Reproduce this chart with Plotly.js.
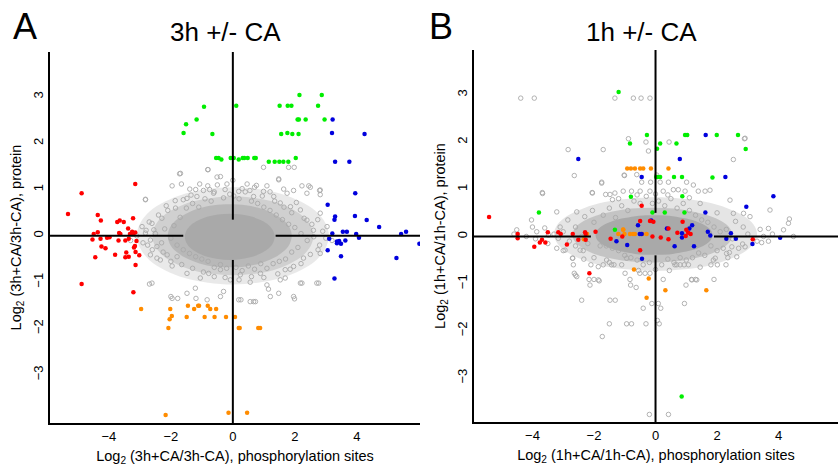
<!DOCTYPE html>
<html>
<head>
<meta charset="utf-8">
<script src="https://cdn.plot.ly/plotly-3.0.1.min.js"></script>
<style>html,body{margin:0;padding:0;background:#fff}#chart{width:838px;height:468px}</style>
</head>
<body>
<div id="chart"></div>
<script>
// ---------- Panel A (3h +/- CA) ----------
const aGreen = [[2.15,3.04],[2.87,3.04],[-0.93,2.79],[0.11,2.81],[1.51,2.81],[1.77,2.81],[1.89,2.81],[2.75,2.81],[-1.17,2.51],[-1.51,2.41],[2.09,2.51],[2.13,2.51],[2.35,2.51],[2.96,2.51],[-1.59,2.22],[-0.66,2.2],[1.56,2.2],[1.76,2.22],[1.92,2.2],[2.12,2.2],[-0.54,1.68],[-0.46,1.68],[-0.37,1.65],[-0.07,1.68],[0.03,1.68],[0.19,1.65],[0.32,1.68],[0.37,1.68],[0.48,1.68],[0.69,1.68],[0.74,1.68],[1.16,1.6],[1.35,1.6],[1.5,1.6],[1.63,1.6],[1.79,1.6],[2.03,1.68]];
const aBlue = [[3.22,2.51],[3.2,2.22],[4.25,2.2],[3.3,1.6],[3.76,1.6],[3.95,0.92],[3.06,0.67],[3.3,0.42],[3.28,0.35],[3.94,0.43],[4.32,0.34],[4.72,0.19],[5.43,0.04],[5.59,0.09],[6.02,-0.17],[3.21,0.05],[3.55,0.09],[3.68,0.09],[3.98,0.04],[4.07,-0.04],[3.11,-0.06],[3.36,-0.12],[3.43,-0.11],[3.49,-0.17],[3.63,-0.1],[3.36,-0.16],[3.06,-0.31],[3.49,-0.44],[5.28,-0.48],[3.28,-0.92]];
const aRed = [[-3.15,1.12],[-4.88,0.92],[-5.32,0.47],[-4.36,0.45],[-4.26,0.33],[-3.22,0.38],[-3.73,0.3],[-3.65,0.33],[-3.52,0.3],[-3.38,0.16],[-4.49,0.04],[-4.36,0.08],[-3.67,0.06],[-3.63,0.04],[-3.25,0.09],[-3.15,0.07],[-3.22,0.04],[-3.32,0.04],[-4.06,-0.04],[-3.98,-0.03],[-4.53,-0.08],[-4.27,-0.06],[-3.69,-0.1],[-3.47,-0.1],[-3.36,-0.06],[-3.11,-0.11],[-3.16,-0.22],[-3.19,-0.25],[-4.24,-0.23],[-4.11,-0.27],[-3.14,-0.35],[-3.44,-0.36],[-3.36,-0.45],[-3.47,-0.46],[-3.8,-0.41],[-4.44,-0.46],[-3.02,-0.42],[-3.14,-0.63],[-4.88,-1.04],[-3.21,-1.22]];
const aOrange = [[-2.96,-1.58],[-2.02,-1.58],[-1.45,-1.51],[-1.25,-1.58],[-1.12,-1.51],[-1.09,-1.51],[-0.81,-1.51],[-0.73,-1.58],[-0.54,-1.58],[-1.97,-1.73],[-2.04,-1.8],[-1.49,-1.75],[-0.91,-1.75],[-0.59,-1.75],[-0.22,-1.75],[0.07,-1.75],[-2.08,-1.99],[0.19,-1.99],[0.22,-1.99],[0.82,-1.99],[0.88,-1.99],[-2.17,-3.87],[-0.14,-3.82],[0.46,-3.82]];
const aGray = [[-1.72,1.34],[-1.96,1.08],[-1.66,1.12],[-1.39,1.01],[-1.07,1.12],[-0.81,1.08],[-0.51,1.27],[-0.4,1.28],[-0.19,1.12],[-0.81,1.43],[0.19,0.96],[0.46,1.12],[0.76,1.09],[1.1,1.08],[1.48,1.21],[1.64,1.01],[2.23,1.08],[2.45,1.08],[2.8,0.98],[2.82,0.89],[2.39,0.92],[1.96,0.98],[1.75,0.92],[1.32,0.85],[0.99,0.96],[0.67,0.85],[0.03,0.86],[-0.62,0.92],[-1.16,0.85],[-1.48,0.81],[-1.86,0.76],[-2.82,0.78],[-2.29,0.38],[-2.61,0.27],[-2.93,0.2],[-2.82,0.06],[-2.55,0.13],[-2.66,-0.09],[-2.45,-0.23],[-2.66,-0.41],[-2.12,-0.41],[-2.34,-0.52],[-1.96,-0.65],[-2.61,-1.02],[-1.48,-0.81],[-1.05,-0.91],[-0.78,-0.81],[-0.4,-0.73],[-0.08,-0.95],[0.24,-0.84],[0.56,-1.0],[0.89,-0.81],[1.1,-1.06],[1.53,-0.95],[1.69,-0.73],[1.96,-0.66],[2.28,-0.48],[2.18,-1.02],[2.71,-1.02],[2.82,-0.38],[2.61,-0.02],[2.39,0.34],[2.82,0.49],[3.04,0.2],[2.18,0.56],[1.86,0.63],[1.53,0.71],[-1.48,-1.24],[-2.0,-1.31],[-0.83,-1.38],[-0.4,-1.31],[0.56,-1.42],[0.67,-1.42],[1.21,-1.31],[1.48,-1.24],[1.96,-1.31],[0.19,-1.38],[-0.3,-1.2],[-1.21,-1.13],[-1.96,-1.35],[-1.78,-1.35],[-1.19,-1.35],[0.26,-1.38],[0.73,-1.42],[1.99,-1.36],[-2.69,-1.04],[-2.45,-0.48],[1.69,-0.91],[2.23,-1.02],[2.77,-1.02],[1.15,-1.15],[-1.69,1.35],[-2.82,0.79],[0.99,1.48],[1.8,1.48],[1.98,1.48],[1.48,1.23],[2.5,1.05],[2.82,0.99],[2.74,0.35],[-0.8,1.43],
[-2.2,0.15],[-2.0,-0.05],[-1.9,0.22],[-1.8,-0.2],[-2.3,-0.15],[-2.5,0.05],[-1.7,0.4],[-1.5,0.6],[-1.3,0.7],[-1.1,0.62],[-0.9,0.8],[-0.7,0.75],[-0.6,0.95],[-0.3,0.82],[-0.1,0.9],[0.2,0.8],[0.4,0.95],[0.6,0.75],[0.8,0.7],[1.0,0.62],[1.2,0.55],[1.4,0.45],[1.6,0.35],[1.8,0.25],[2.0,0.18],[2.2,0.05],[2.4,-0.1],[2.1,-0.25],[1.9,-0.35],[1.7,-0.5],[1.5,-0.55],[1.3,-0.6],[1.1,-0.7],[0.9,-0.6],[0.7,-0.72],[0.5,-0.65],[0.3,-0.75],[0.1,-0.68],[-0.2,-0.7],[-0.4,-0.62],[-0.6,-0.68],[-0.8,-0.55],[-1.0,-0.5],[-1.2,-0.45],[-1.4,-0.38],[-1.6,-0.3],[-1.8,-0.45],[-2.6,-0.3],[-2.8,0.12],[2.6,0.12],[2.8,-0.2],[3.0,-0.05],[-1.2,1.0],[1.2,0.95],[0.0,1.2],[-0.5,1.1],[0.7,1.05],
[-2.9,-0.15],[-2.7,0.3],[-2.4,0.45],[-2.1,0.55],[-1.85,0.6],[-1.6,0.78],[-1.35,0.88],[-0.95,0.98],[-0.75,1.0],[-0.25,1.0],[0.3,1.02],[0.55,0.98],[0.95,0.86],[1.35,0.75],[1.65,0.62],[1.9,0.5],[2.3,0.38],[2.55,0.25],[2.9,0.1],[2.75,-0.3],[2.5,-0.4],[2.2,-0.6],[1.85,-0.72],[1.45,-0.82],[1.0,-0.9],[0.6,-0.88],[0.2,-0.95],[-0.25,-0.9],[-0.6,-0.88],[-0.95,-0.78],[-1.3,-0.7],[-1.65,-0.62],[-2.0,-0.55],[-2.25,-0.35],[-2.75,-0.2],[-3.1,0.0],[-3.3,-0.1],[3.2,-0.1],[-2.15,0.65],[2.05,0.72]];
// hand-traced outlines of the cloud, from its solid core out to its loose edge
const aCore = [[1.35,-0.02],[1.3,0.11],[1.16,0.23],[0.93,0.33],[0.63,0.41],[0.28,0.46],[-0.1,0.48],[-0.48,0.46],[-0.83,0.41],[-1.13,0.33],[-1.36,0.23],[-1.5,0.11],[-1.55,-0.02],[-1.5,-0.15],[-1.36,-0.27],[-1.13,-0.37],[-0.83,-0.45],[-0.48,-0.5],[-0.1,-0.52],[0.28,-0.5],[0.63,-0.45],[0.93,-0.37],[1.16,-0.27],[1.3,-0.15]];
const aMid = [[1.9,0],[1.83,0.18],[1.63,0.34],[1.31,0.48],[0.9,0.59],[0.42,0.66],[-0.1,0.68],[-0.62,0.66],[-1.1,0.59],[-1.51,0.48],[-1.83,0.34],[-2.03,0.18],[-2.1,0],[-2.03,-0.18],[-1.83,-0.34],[-1.51,-0.48],[-1.1,-0.59],[-0.62,-0.66],[-0.1,-0.68],[0.42,-0.66],[0.9,-0.59],[1.31,-0.48],[1.63,-0.34],[1.83,-0.18]];
const aHalo = [[2.6,0],[2.51,0.22],[2.25,0.43],[1.84,0.6],[1.3,0.74],[0.67,0.82],[0,0.85],[-0.67,0.82],[-1.3,0.74],[-1.84,0.6],[-2.25,0.43],[-2.51,0.22],[-2.6,0],[-2.51,-0.22],[-2.25,-0.43],[-1.84,-0.6],[-1.3,-0.74],[-0.67,-0.82],[0,-0.85],[0.67,-0.82],[1.3,-0.74],[1.84,-0.6],[2.25,-0.43],[2.51,-0.22]];
const aEdge = [[3.1,0],[2.99,0.27],[2.68,0.53],[2.19,0.74],[1.55,0.91],[0.8,1.01],[0,1.05],[-0.8,1.01],[-1.55,0.91],[-2.19,0.74],[-2.68,0.53],[-2.99,0.27],[-3.1,0],[-2.99,-0.27],[-2.68,-0.53],[-2.19,-0.74],[-1.55,-0.91],[-0.8,-1.01],[0,-1.05],[0.8,-1.01],[1.55,-0.91],[2.19,-0.74],[2.68,-0.53],[2.99,-0.27]];
const aRefGaps = {x: [-1.6, 1.38], y: [-0.52, 0.35]};

// ---------- Panel B (1h +/- CA) ----------
const bGreen = [[-1.2,3.06],[-0.28,2.15],[-0.83,1.97],[0.15,1.97],[0.05,1.86],[0.68,1.97],[0.96,2.15],[1.03,2.15],[1.99,2.15],[2.68,2.15],[2.93,1.85],[0.02,1.26],[0.07,1.26],[0.15,1.26],[0.6,1.26],[0.86,1.26],[1.85,1.25],[-0.8,0.84],[0.87,0.85],[-3.79,0.51],[-0.1,0.51],[0.3,0.51],[0.94,0.51],[-1.32,0.14],[0.85,-3.39]];
const bBlue = [[-2.51,1.64],[0.79,1.64],[-0.45,1.26],[1.63,2.15],[2.27,1.26],[3.83,0.85],[2.95,0.63],[1.62,0.51],[-0.14,0.34],[-0.57,0.24],[1.19,0.24],[1.1,0.17],[0.37,0.17],[-0.51,0.05],[-0.45,0.05],[0.86,0.07],[1.7,0.1],[1.78,0.02],[2.45,0.07],[2.3,-0.05],[2.61,-0.05],[3.15,-0.16],[0.86,-0.02],[-1.27,-0.1],[-0.92,-0.18],[0.62,-0.21],[1.25,-0.21],[-0.44,-0.47],[4.05,-0.03]];
const bRed = [[-5.41,0.41],[-4.48,0.05],[-4.48,-0.04],[-3.5,0.09],[-3.16,0.09],[-3.08,0.05],[-2.69,0.05],[-2.29,0.09],[-2.27,0.05],[-1.95,0.1],[-3.69,-0.07],[-3.76,-0.13],[-3.58,-0.13],[-3.94,-0.22],[-2.51,-0.07],[-2.27,-0.07],[-2.88,-0.17],[-1.46,-0.05],[-1.08,0.0],[-0.45,0.65],[-0.18,0.33],[-0.5,0.33],[-0.07,0.31],[0.42,0.17],[0.71,0.08],[1.0,0.14],[1.06,0.08],[1.14,0.05],[-0.1,0.0],[0.42,-0.06],[0.88,0.31],[-0.5,-0.29],[3.16,-0.06],[-2.15,-0.78],[0.17,-0.02],[0.98,0.01]];
const bOrange = [[-0.92,1.44],[-0.8,1.44],[-0.67,1.44],[-0.5,1.44],[-0.4,1.44],[-0.15,1.44],[0.42,1.44],[-1.05,0.14],[-1.21,0.05],[-1.05,0.15],[-1.01,0.05],[-0.83,0.05],[-0.73,0.05],[-0.67,0.05],[-0.29,0.05],[-0.42,0.05],[-2.22,0.05],[-2.33,-0.06],[-0.7,-0.7],[-0.22,-0.89],[-0.29,-1.3],[0.32,-1.14],[1.65,-1.14]];
const bGray = [[-4.38,2.93],[-3.94,2.93],[-1.32,2.93],[-0.72,2.93],[-0.47,2.93],[-0.18,2.93],[-0.88,2.07],[-0.31,2.0],[0.44,2.0],[2.89,2.07],[-0.23,1.81],[-2.84,1.84],[-1.7,1.84],[2.53,1.63],[-2.64,1.29],[-1.01,1.29],[-0.61,1.31],[-0.45,1.15],[-0.16,1.15],[0.15,1.15],[0.42,1.15],[1.01,1.15],[-1.75,1.15],[0.04,1.3],[-2.05,0.92],[-1.62,0.89],[-1.48,0.89],[-1.32,0.92],[-1.05,0.96],[-0.78,0.96],[-0.5,0.96],[-0.18,0.96],[0.25,0.96],[0.58,0.99],[0.96,0.96],[1.39,0.96],[1.61,0.96],[0.74,0.99],[-3.68,0.93],[-2.06,0.93],[-3.21,0.52],[-2.56,0.52],[-4.03,0.35],[-4.51,0.14],[4.35,0.37],[3.67,0.17],[2.53,0.49],[2.86,0.49],[2.91,2.08],[-1.02,1.3],[-3.67,0.91],[-1.75,1.13],[-3.21,-0.25],[-2.94,-0.29],[-2.69,-0.46],[-2.45,-0.29],[-1.86,-0.64],[-1.59,-0.5],[-0.94,-0.46],[0.69,-0.6],[1.18,-0.92],[1.34,-0.92],[1.88,-0.5],[2.64,-0.43],[2.91,-0.22],[3.51,0.0],[4.16,0.14],[4.32,0.28],[3.07,0.42],[3.72,0.56],[2.42,0.77],[1.77,0.98],[1.23,1.09],[-2.56,-0.85],[-2.13,-1.03],[-1.86,-0.92],[-3.16,-0.04],[-3.48,0.03],[-3.86,0.1],
[-2.7,-0.46],[-2.67,-0.6],[-2.33,-0.48],[-2.64,-0.78],[-2.6,-0.82],[-2.1,-0.6],[-1.7,-0.6],[-1.43,-0.6],[-1.35,-0.6],[-2.16,-0.91],[-2.0,-0.91],[-1.83,-0.94],[-2.4,-1.35],[-1.48,-1.35],[-1.31,-1.35],[-0.99,-0.78],[-0.83,-0.91],[-0.81,-1.03],[-0.63,-1.08],[-0.51,-0.78],[-0.34,-0.78],[-0.18,-0.78],[-0.4,-1.52],[-0.12,-1.42],[0.09,-1.42],[0.17,-1.52],[0.25,-0.91],[0.63,-0.6],[0.8,-0.6],[0.93,-0.6],[1.07,-0.6],[0.99,-1.03],[1.17,-0.91],[1.3,-0.91],[1.9,-0.91],[2.01,-0.6],[2.29,-0.6],[1.94,-0.46],[0.94,-1.42],[-1.5,-1.85],[-0.94,-1.85],[-0.78,-1.85],[-0.31,-1.85],[0.12,-1.85],[-1.73,-2.12],[2.4,-0.34],[2.48,-0.22],[2.83,-0.16],[3.45,-0.13],[3.67,-0.1],[-0.2,-3.77],[0.42,-3.77],[0.06,-1.78],[4.48,0.0],[2.31,-0.36],
[-3.0,0.1],[-2.8,-0.1],[-2.6,0.2],[-2.4,0.0],[-2.2,-0.15],[-2.0,0.3],[-1.8,-0.2],[-1.7,0.45],[-1.5,0.6],[-1.3,0.4],[-1.1,0.65],[-0.9,0.55],[-0.7,0.75],[-0.5,0.7],[-0.3,0.85],[-0.1,0.7],[0.1,0.75],[0.3,0.65],[0.5,0.8],[0.7,0.6],[0.9,0.7],[1.1,0.55],[1.3,0.45],[1.5,0.35],[1.7,0.3],[1.9,0.2],[2.1,0.1],[2.3,0.15],[2.5,-0.05],[2.2,-0.25],[2.0,-0.3],[1.8,-0.2],[1.6,-0.4],[1.4,-0.35],[1.2,-0.45],[1.0,-0.5],[0.8,-0.45],[0.6,-0.55],[0.4,-0.48],[0.2,-0.6],[-0.2,-0.55],[-0.4,-0.6],[-0.6,-0.5],[-0.8,-0.45],[-1.0,-0.4],[-1.2,-0.3],[-1.4,-0.25],[-1.6,-0.2],[-2.6,-0.2],[-3.3,0.05],[3.0,0.05],[3.3,-0.1],[-4.2,0.0],[-4.6,0.05],[-3.6,0.18],[-3.9,-0.05],
[-3.5,-0.15],[-3.1,0.2],[-2.85,0.35],[-2.3,0.42],[-2.05,0.55],[-1.4,0.78],[-1.2,0.8],[-0.6,0.88],[0.0,0.9],[0.4,0.88],[1.1,0.82],[1.45,0.7],[2.0,0.5],[2.6,0.32],[2.85,0.2],[3.4,0.15],[3.8,0.05],[2.7,-0.25],[2.35,-0.45],[1.8,-0.6],[1.45,-0.65],[0.45,-0.72],[0.0,-0.7],[-0.55,-0.72],[-1.1,-0.6],[-1.5,-0.55],[-2.0,-0.45],[-2.35,-0.3],[-3.0,-0.3],[-4.0,0.2]];
const bCore = [[1.85,0.03],[1.79,0.14],[1.6,0.24],[1.29,0.33],[0.9,0.39],[0.44,0.44],[-0.05,0.45],[-0.54,0.44],[-1.0,0.39],[-1.39,0.33],[-1.7,0.24],[-1.89,0.14],[-1.95,0.03],[-1.89,-0.08],[-1.7,-0.18],[-1.39,-0.27],[-1.0,-0.33],[-0.54,-0.38],[-0.05,-0.39],[0.44,-0.38],[0.9,-0.33],[1.29,-0.27],[1.6,-0.18],[1.79,-0.08]];
const bMid = [[2.5,0.03],[2.41,0.18],[2.15,0.32],[1.74,0.44],[1.2,0.53],[0.57,0.59],[-0.1,0.61],[-0.77,0.59],[-1.4,0.53],[-1.94,0.44],[-2.35,0.32],[-2.61,0.18],[-2.7,0.03],[-2.61,-0.12],[-2.35,-0.26],[-1.94,-0.38],[-1.4,-0.47],[-0.77,-0.53],[-0.1,-0.55],[0.57,-0.53],[1.2,-0.47],[1.74,-0.38],[2.15,-0.26],[2.41,-0.12]];
const bHalo = [[3.3,0.05],[3.19,0.25],[2.86,0.44],[2.33,0.6],[1.65,0.73],[0.85,0.8],[0,0.83],[-0.85,0.8],[-1.65,0.73],[-2.33,0.6],[-2.86,0.44],[-3.19,0.25],[-3.3,0.05],[-3.19,-0.15],[-2.86,-0.34],[-2.33,-0.5],[-1.65,-0.63],[-0.85,-0.7],[0,-0.73],[0.85,-0.7],[1.65,-0.63],[2.33,-0.5],[2.86,-0.34],[3.19,-0.15]];
const bRefGaps = {x: [-2.1, 1.9], y: [-0.4, 0.5]};

// tick labels
const xTicks = [-4, -2, 0, 2, 4];
const yTicks = [-3, -2, -1, 0, 1, 2, 3];

const COL = {gray:'#a9a9a9', red:'#ff0000', green:'#00ee00', blue:'#0000dd', orange:'#ff8c00'};
const xs = a => a.map(p => p[0]);
const ys = a => a.map(p => p[1]);

function poly(pts, xa, ya, fill){
  const c = pts.concat([pts[0]]);
  return {type:'scatter', mode:'lines', x:xs(c), y:ys(c), xaxis:xa, yaxis:ya, fill:'toself',
    fillcolor:fill, line:{width:0, color:fill, shape:'spline'}, hoverinfo:'skip'};
}
function grayPts(pts, xa, ya){
  return {type:'scatter', mode:'markers', x:xs(pts), y:ys(pts), xaxis:xa, yaxis:ya,
    marker:{symbol:'circle-open', size:4.5, color:COL.gray, line:{width:0.9, color:COL.gray}}, hoverinfo:'x+y'};
}
function colPts(pts, xa, ya, c){
  return {type:'scatter', mode:'markers', x:xs(pts), y:ys(pts), xaxis:xa, yaxis:ya,
    marker:{symbol:'circle', size:4.5, color:c}, hoverinfo:'x+y'};
}

const data = [
  poly(aEdge,'x','y','rgba(169,169,169,0.25)'), poly(aHalo,'x','y','rgba(169,169,169,0.4)'),
  poly(aMid,'x','y','rgba(169,169,169,0.6)'), poly(aCore,'x','y','#a9a9a9'), grayPts(aGray,'x','y'),
  colPts(aGreen,'x','y',COL.green), colPts(aOrange,'x','y',COL.orange), colPts(aBlue,'x','y',COL.blue), colPts(aRed,'x','y',COL.red),
  poly(bHalo,'x2','y2','rgba(169,169,169,0.3)'), poly(bMid,'x2','y2','rgba(169,169,169,0.55)'),
  poly(bCore,'x2','y2','#a9a9a9'), grayPts(bGray,'x2','y2'),
  colPts(bGreen,'x2','y2',COL.green), colPts(bOrange,'x2','y2',COL.orange), colPts(bBlue,'x2','y2',COL.blue), colPts(bRed,'x2','y2',COL.red)
];

const xRangeA = [-5.9, 6.04], yRangeA = [-4.04, 3.97];
const xRangeB = [-5.9, 5.93], yRangeB = [-3.93, 3.95];

function refLines(xa, ya, xr, yr, g){
  const L = {type:'line', xref:xa, yref:ya, layer:'above', line:{color:'#000', width:2}};
  return [
    Object.assign({}, L, {x0:0, x1:0, y0:g.y[1], y1:yr[1]}),
    Object.assign({}, L, {x0:0, x1:0, y0:yr[0], y1:g.y[0]}),
    Object.assign({}, L, {x0:xr[0], x1:g.x[0], y0:0, y1:0}),
    Object.assign({}, L, {x0:g.x[1], x1:xr[1], y0:0, y1:0})
  ];
}

const axBase = {showgrid:false, zeroline:false, showline:true, linecolor:'#000', linewidth:2,
  ticks:'', tickfont:{size:13, color:'#000'}, fixedrange:true};
const titleFont = {size:14.5, color:'#000'};

const layout = {
  width:838, height:468, margin:{l:0, r:0, t:0, b:0}, showlegend:false,
  paper_bgcolor:'#fff', plot_bgcolor:'#fff',
  font:{family:'"Liberation Sans", Arial, sans-serif', color:'#000'},
  xaxis: Object.assign({}, axBase, {domain:[0.0597,0.5012], range:xRangeA, tickvals:xTicks, anchor:'y',
    title:{text:'Log<sub>2</sub> (3h+CA/3h-CA), phosphorylation sites', font:titleFont, standoff:8}}),
  yaxis: Object.assign({}, axBase, {domain:[0.0962,0.8889], range:yRangeA, tickvals:yTicks, tickangle:-90, anchor:'x',
    title:{text:'Log<sub>2</sub> (3h+CA/3h-CA), protein', font:titleFont, standoff:6}}),
  xaxis2: Object.assign({}, axBase, {domain:[0.5656,1.0], range:xRangeB, tickvals:xTicks, anchor:'y2',
    title:{text:'Log<sub>2</sub> (1h+CA/1h-CA), phosphorylation sites', font:titleFont, standoff:8}}),
  yaxis2: Object.assign({}, axBase, {domain:[0.0983,0.8932], range:yRangeB, tickvals:yTicks, tickangle:-90, anchor:'x2',
    title:{text:'Log<sub>2</sub> (1h+CA/1h-CA), protein', font:titleFont, standoff:6}}),
  shapes: refLines('x','y',xRangeA,yRangeA,aRefGaps).concat(refLines('x2','y2',xRangeB,yRangeB,bRefGaps)),
  annotations: [
    {text:'A', xref:'paper', yref:'paper', x:25/838, y:1-26/468, showarrow:false, font:{size:36, color:'#000'}, xanchor:'center', yanchor:'middle'},
    {text:'3h +/- CA', xref:'paper', yref:'paper', x:225/838, y:1-32/468, showarrow:false, font:{size:26, color:'#000'}, xanchor:'center', yanchor:'middle'},
    {text:'B', xref:'paper', yref:'paper', x:441/838, y:1-26/468, showarrow:false, font:{size:36, color:'#000'}, xanchor:'center', yanchor:'middle'},
    {text:'1h +/- CA', xref:'paper', yref:'paper', x:641/838, y:1-32/468, showarrow:false, font:{size:26, color:'#000'}, xanchor:'center', yanchor:'middle'}
  ]
};

Plotly.newPlot('chart', data, layout, {displayModeBar:false, staticPlot:true});
</script>
</body>
</html>
